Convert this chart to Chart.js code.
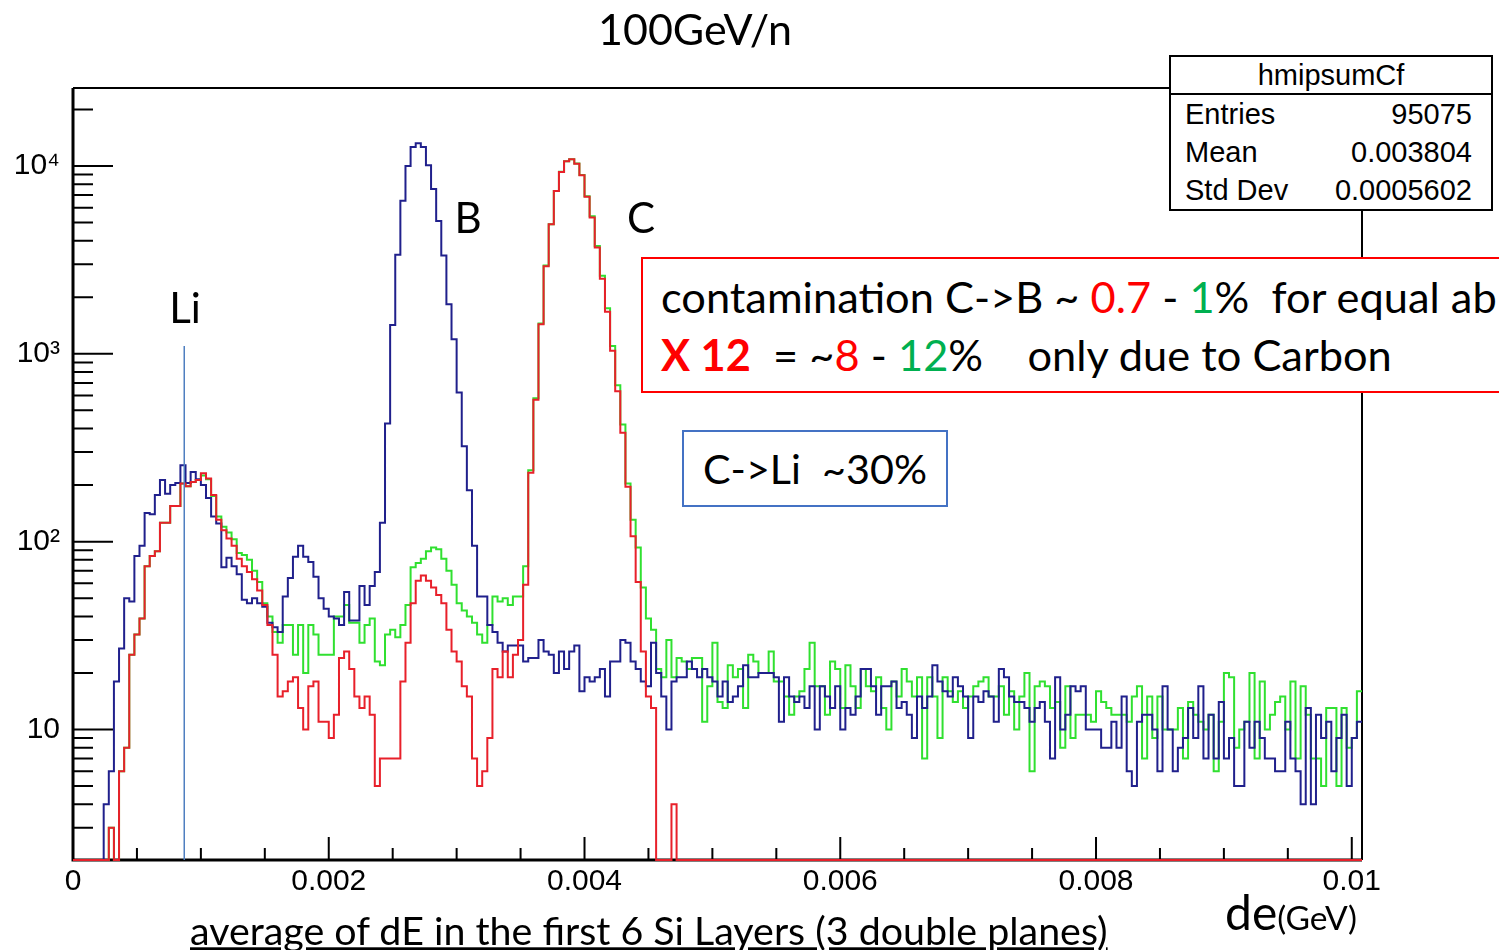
<!DOCTYPE html>
<html>
<head>
<meta charset="utf-8">
<title>100GeV/n</title>
<script src="https://cdn.jsdelivr.net/npm/chart.js@4.4.1/dist/chart.umd.min.js"></script>
<style>
  body { margin: 0; width: 1499px; height: 950px; overflow: hidden; background: #fff; position: relative; font-family: Lato, sans-serif; }
  canvas { position: absolute; left: 0; top: 0; }
  .rotulo { position: absolute; white-space: pre; line-height: 1; color: #000; }
  .centro { transform: translate(-50%, -50%); }
  .esq { transform: translateY(-50%); }
  .caixa { position: absolute; background: #fff; box-sizing: border-box; }
  .linha { display: flex; justify-content: space-between; height: 38px; line-height: 38px; padding: 0 19px 0 14px; }
</style>
</head>
<body>
<canvas id="grafico" width="1499" height="950"></canvas>

<div class="rotulo centro" id="titulo" style="left:695px; top:28px; font-size:41px">100GeV/n</div>
<div class="rotulo centro" style="left:468px; top:217px; font-size:42px">B</div>
<div class="rotulo centro" style="left:641px; top:217px; font-size:42px">C</div>
<div class="rotulo centro" style="left:185px; top:307px; font-size:42px">Li</div>

<div class="caixa" style="left:1169px; top:55px; width:324px; height:156px; border:2px solid #000; font-family:'Liberation Sans', Arial, sans-serif; font-size:29px">
  <div style="height:36px; line-height:36px; border-bottom:2px solid #000; text-align:center">hmipsumCf</div>
  <div class="linha"><span>Entries</span><span>95075</span></div>
  <div class="linha"><span>Mean</span><span>0.003804</span></div>
  <div class="linha"><span>Std Dev</span><span>0.0005602</span></div>
</div>

<div class="caixa" style="left:641px; top:257px; width:900px; height:136px; border:2px solid #ff0000"></div>
<div class="rotulo esq" id="nota1" style="left:661px; top:297px; font-size:40px">contamination C-&gt;B ~ <span style="color:#ff0000">0.7</span> - <span style="color:#00b050">1</span>%  for equal ab</div>
<div class="rotulo esq" id="nota2" style="left:661px; top:355px; font-size:40px"><b style="color:#ff0000">X 12</b>  = ~<span style="color:#ff0000">8</span> - <span style="color:#00b050">12</span>%    only due to Carbon</div>

<div class="caixa" style="left:682px; top:430px; width:266px; height:77px; border:2px solid #4472c4"></div>
<div class="rotulo centro" id="notaLi" style="left:815px; top:469px; font-size:40px">C-&gt;Li  ~30%</div>

<div class="rotulo esq" id="unidade" style="left:1225px; top:912px; font-size:42px">de<span style="font-size:0.7em">(GeV)</span></div>
<div class="rotulo esq" id="tituloX" style="left:190px; top:930px; font-size:36px; text-decoration:underline">average of dE in the first 6 Si Layers (3 double planes)</div>

<script>
// bins of 0.00004 from 0 to 0.01008
const larguraBin = 0.00004;

const contagemB = [
  0, 0, 0, 0, 0, 0, 4, 6, 18, 27,
  50, 48, 84, 95, 142, 140, 177, 213, 180, 200,
  205, 255, 205, 235, 215, 200, 171, 136, 125, 73,
  82, 74, 67, 49, 47, 50, 47, 45, 37, 35,
  33, 51, 64, 83, 95, 83, 78, 65, 50, 44,
  40, 39, 36, 54, 38, 38, 58, 46, 58, 69,
  126, 425, 1424, 3365, 6530, 10000, 12600, 13200, 12600, 10100,
  7540, 5090, 3340, 1833, 1197, 623, 322, 188, 95, 51,
  51, 36, 33, 29, 26, 28, 28, 28, 23, 24,
  24, 30, 26, 25, 20, 26, 21, 26, 28, 16,
  19, 18, 19, 21, 15, 23, 23, 30, 29, 23,
  21, 18, 17, 29, 20, 15, 10, 18, 19, 19,
  23, 21, 19, 21, 19, 18, 15, 18, 14, 15,
  17, 22, 19, 19, 20, 20, 20, 19, 11, 19,
  15, 14, 15, 13, 17, 10, 17, 15, 13, 17,
  10, 13, 12, 15, 21, 21, 17, 12, 17, 17,
  18, 13, 14, 12, 9, 15, 13, 15, 22, 18,
  16, 15, 19, 17, 15, 9, 15, 14, 16, 15,
  11, 21, 19, 15, 14, 14, 13, 11, 13, 14,
  11, 7, 19, 10, 12, 17, 16, 17, 10, 10,
  10, 8, 8, 11, 8, 15, 6, 5, 11, 12,
  12, 10, 6, 17, 10, 6, 8, 9, 13, 9,
  17, 7, 12, 7, 14, 7, 9, 5, 5, 11,
  8, 11, 9, 7, 7, 6, 6, 11, 7, 6,
  4, 13, 4, 12, 9, 11, 6, 9, 12, 5,
  9, 11
];

const contagemC = [
  0, 0, 0, 0, 0, 0, 0, 3, 0, 6,
  8, 25, 32, 39, 74, 84, 89, 126, 126, 155,
  155, 204, 197, 208, 213, 231, 217, 177, 131, 115,
  104, 95, 81, 74, 69, 63, 55, 46, 36, 25,
  15, 16, 18, 19, 13, 10, 17, 18, 11, 11,
  9, 12, 24, 26, 21, 15, 13, 15, 12, 5,
  7, 7, 7, 7, 18, 29, 47, 62, 66, 62,
  57, 52, 47, 34, 26, 23, 17, 15, 7, 5,
  6, 9, 21, 19, 26, 19, 25, 30, 59, 233,
  569, 1435, 2925, 4890, 7350, 9290, 10590, 10840, 10280, 8930,
  6850, 5310, 3680, 2510, 1675, 1037, 632, 380, 196, 107,
  61, 26, 15, 13, 0, 0, 0, 4, 0, 0,
  0, 0, 0, 0, 0, 0, 0, 0, 0, 0,
  0, 0, 0, 0, 0, 0, 0, 0, 0, 0,
  0, 0, 0, 0, 0, 0, 0, 0, 0, 0,
  0, 0, 0, 0, 0, 0, 0, 0, 0, 0,
  0, 0, 0, 0, 0, 0, 0, 0, 0, 0,
  0, 0, 0, 0, 0, 0, 0, 0, 0, 0,
  0, 0, 0, 0, 0, 0, 0, 0, 0, 0,
  0, 0, 0, 0, 0, 0, 0, 0, 0, 0,
  0, 0, 0, 0, 0, 0, 0, 0, 0, 0,
  0, 0, 0, 0, 0, 0, 0, 0, 0, 0,
  0, 0, 0, 0, 0, 0, 0, 0, 0, 0,
  0, 0, 0, 0, 0, 0, 0, 0, 0, 0,
  0, 0, 0, 0, 0, 0, 0, 0, 0, 0,
  0, 0
];

const contagemVerde = [
  0, 0, 0, 0, 0, 0, 0, 3, 0, 6,
  8, 25, 32, 39, 74, 84, 89, 126, 126, 155,
  155, 204, 197, 208, 213, 225, 215, 175, 136, 120,
  112, 103, 87, 85, 80, 70, 61, 47, 40, 33,
  29, 36, 36, 25, 36, 20, 36, 32, 25, 25,
  25, 40, 40, 46, 37, 37, 29, 36, 39, 23,
  22, 32, 34, 31, 36, 46, 73, 77, 81, 89,
  93, 91, 81, 70, 59, 47, 43, 40, 37, 32,
  29, 36, 51, 48, 50, 46, 51, 51, 74, 240,
  580, 1450, 2950, 4900, 7350, 9300, 10600, 10850, 10300, 8950,
  6900, 5400, 3750, 2600, 1750, 1100, 680, 420, 204, 131,
  93, 57, 39, 34, 21, 19, 30, 19, 24, 23,
  21, 24, 24, 11, 17, 29, 14, 13, 22, 19,
  21, 13, 25, 23, 20, 20, 26, 18, 18, 15,
  12, 15, 16, 21, 29, 17, 17, 12, 23, 21,
  13, 22, 17, 13, 21, 17, 16, 19, 13, 10,
  18, 15, 21, 18, 15, 19, 7, 19, 15, 9,
  19, 16, 14, 16, 13, 15, 17, 18, 19, 15,
  15, 17, 12, 16, 10, 15, 20, 6, 17, 18,
  17, 13, 14, 8, 17, 9, 12, 12, 12, 11,
  16, 14, 13, 12, 12, 12, 11, 15, 17, 7,
  15, 9, 15, 10, 10, 10, 13, 7, 14, 12,
  11, 10, 12, 6, 11, 20, 19, 8, 10, 11,
  20, 7, 18, 10, 12, 14, 15, 10, 18, 7,
  17, 12, 7, 7, 5, 13, 13, 5, 13, 8,
  9, 16
];

const xValoresRotulo = [0, 0.002, 0.004, 0.006, 0.008, 0.01];
const xRotulos = ['0', '0.002', '0.004', '0.006', '0.008', '0.01'];
const yValoresRotulo = [10, 100, 1000, 10000];
const yRotulos = ['10', '10²', '10³', '10⁴'];

const yMin = 2.02;
const yMax = 26000;
const posicaoLi = 0.00087;

const corB = '#20208c';
const corC = '#e8202a';
const corVerde = '#30e030';

const xTicks = [];
for (let k = 0; k <= 20; k++) xTicks.push(k * 0.0005);
const yTicks = [];
[1, 10, 100, 1000, 10000].forEach(d => {
  for (let m = 1; m <= 9; m++) {
    const v = m * d;
    if (v >= yMin && v <= yMax) yTicks.push(v);
  }
});

function montaPontos(valores) {
  const pontos = valores.map((v, i) => ({ x: i * larguraBin, y: v > 0 ? v : yMin }));
  const ultimo = valores[valores.length - 1];
  pontos.push({ x: valores.length * larguraBin, y: ultimo > 0 ? ultimo : yMin });
  return pontos;
}

function rotuloX(valor) {
  const j = xValoresRotulo.findIndex(v => Math.abs(v - valor) < 1e-9);
  return j >= 0 ? xRotulos[j] : '';
}

function rotuloY(valor) {
  const j = yValoresRotulo.indexOf(valor);
  return j >= 0 ? yRotulos[j] : '';
}

const moldura = {
  id: 'moldura',
  beforeDatasetsDraw(chart) {
    const { ctx, chartArea: a, scales: { x, y } } = chart;
    ctx.save();
    ctx.strokeStyle = '#000';
    ctx.lineWidth = 2;
    ctx.beginPath();
    yTicks.forEach(v => {
      const py = y.getPixelForValue(v);
      const len = yValoresRotulo.includes(v) ? 40 : 20;
      ctx.moveTo(a.left, py);
      ctx.lineTo(a.left + len, py);
    });
    xTicks.forEach(v => {
      const px = x.getPixelForValue(v);
      const len = rotuloX(v) !== '' ? 23 : 12;
      ctx.moveTo(px, a.bottom);
      ctx.lineTo(px, a.bottom - len);
    });
    ctx.stroke();

    ctx.lineWidth = 2;
    ctx.beginPath();
    ctx.moveTo(a.left, a.top);
    ctx.lineTo(a.right, a.top);
    ctx.lineTo(a.right, a.bottom);
    ctx.stroke();

    ctx.lineWidth = 3;
    ctx.beginPath();
    ctx.moveTo(a.left, a.top);
    ctx.lineTo(a.left, a.bottom);
    ctx.lineTo(a.right, a.bottom);
    ctx.stroke();
    ctx.restore();
  },
  afterDatasetsDraw(chart) {
    const { ctx, scales: { x, y } } = chart;
    const px = x.getPixelForValue(posicaoLi);
    ctx.save();
    ctx.strokeStyle = '#4f7fc0';
    ctx.lineWidth = 1.5;
    ctx.beginPath();
    ctx.moveTo(px, y.getPixelForValue(1100));
    ctx.lineTo(px, y.getPixelForValue(yMin));
    ctx.stroke();
    ctx.restore();
  }
};

function serie(nome, valores, cor) {
  return {
    label: nome,
    data: montaPontos(valores),
    borderColor: cor,
    borderWidth: 2,
    stepped: true,
    fill: false,
    pointRadius: 0,
    clip: false
  };
}

const fonteRoot = { family: "'Liberation Sans', Arial, sans-serif", size: 30 };

new Chart(document.getElementById('grafico'), {
  type: 'line',
  data: {
    datasets: [
      serie('C', contagemC, corC),
      serie('B', contagemB, corB),
      serie('C (green)', contagemVerde, corVerde)
    ]
  },
  options: {
    responsive: false,
    animation: false,
    devicePixelRatio: 1,
    layout: { padding: { top: 88, right: 137, left: 0, bottom: 0 } },
    plugins: { legend: { display: false }, tooltip: { enabled: false } },
    scales: {
      x: {
        type: 'linear',
        min: 0,
        max: contagemC.length * larguraBin,
        afterBuildTicks: s => { s.ticks = xTicks.map(v => ({ value: v })); },
        afterFit: s => { s.height = 90; },
        grid: { display: false, drawTicks: false, tickLength: 0 },
        border: { display: false },
        ticks: { autoSkip: false, maxRotation: 0, padding: 4, color: '#000', font: fonteRoot, callback: v => rotuloX(v) }
      },
      y: {
        type: 'logarithmic',
        min: yMin,
        max: yMax,
        afterBuildTicks: s => { s.ticks = yTicks.map(v => ({ value: v })); },
        afterFit: s => { s.width = 73; },
        grid: { display: false, drawTicks: false, tickLength: 0 },
        border: { display: false },
        ticks: { autoSkip: false, padding: 13, color: '#000', font: fonteRoot, callback: v => rotuloY(v) }
      }
    }
  },
  plugins: [moldura]
});

function ajustaLargura(id, alvo) {
  const el = document.getElementById(id);
  const atual = el.getBoundingClientRect().width;
  const tamanho = parseFloat(getComputedStyle(el).fontSize);
  el.style.fontSize = (tamanho * alvo / atual).toFixed(2) + 'px';
}

ajustaLargura('titulo', 194);
ajustaLargura('nota2', 731);
document.getElementById('nota1').style.fontSize = document.getElementById('nota2').style.fontSize;
ajustaLargura('notaLi', 224);
ajustaLargura('unidade', 132);
ajustaLargura('tituloX', 918);
</script>
</body>
</html>
